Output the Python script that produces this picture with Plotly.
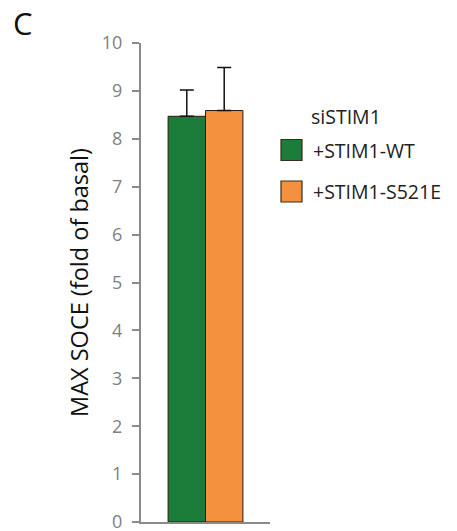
import plotly.graph_objects as go

categories = ["siSTIM1"]
series_names = ["+STIM1-WT", "+STIM1-S521E"]
values_wt = [8.47]
values_s521e = [8.59]
err_wt = [0.55]
err_s521e = [0.9]
colors = ["#1b7d39", "#f4913f"]
yticks = list(range(0, 11))
legend_title = "siSTIM1"

W, H = 457, 531
ML, MR, MT, MB = 141, 187, 43, 9
PW, PH = W - ML - MR, H - MT - MB


def px_x(x):
    return (x - ML) / PW


def px_y(y):
    return 1 - (y - MT) / PH


fig = go.Figure()
for name, vals, errs, col in [
    (series_names[0], values_wt, err_wt, colors[0]),
    (series_names[1], values_s521e, err_s521e, colors[1]),
]:
    fig.add_trace(go.Bar(
        x=categories, y=vals, name=name, showlegend=False,
        marker=dict(color=col, line=dict(color="#2a1a10", width=1)),
        error_y=dict(type="data", array=errs, symmetric=False, arrayminus=[0] * len(errs),
                     color="#111111", thickness=1.5, width=7),
    ))

# manual legend (large square swatches like the reference)
shapes = []
annotations = []
annotations.append(dict(text=legend_title, xref="paper", yref="paper",
                        x=px_x(309), y=px_y(116), xanchor="left", yanchor="middle",
                        showarrow=False, font=dict(size=19.5, color="#222")))
for i, (name, col) in enumerate(zip(series_names, colors)):
    yc = 150 + i * 41.5
    shapes.append(dict(type="rect", xref="paper", yref="paper",
                       x0=px_x(281), x1=px_x(302), y0=px_y(yc - 10.5), y1=px_y(yc + 10.5),
                       fillcolor=col, line=dict(color="#3a2a1a", width=1.2)))
    annotations.append(dict(text=name, xref="paper", yref="paper",
                            x=px_x(311), y=px_y(yc), xanchor="left", yanchor="middle",
                            showarrow=False, font=dict(size=19.5, color="#222")))

annotations.append(dict(text="C", xref="paper", yref="paper",
                        x=px_x(11), y=px_y(0),
                        xanchor="left", yanchor="top", showarrow=False,
                        font=dict(size=31, color="#111")))

fig.update_layout(
    width=W, height=H,
    margin=dict(l=ML, r=MR, t=MT, b=MB, autoexpand=False),
    plot_bgcolor="white", paper_bgcolor="white",
    barmode="group", bargap=0.42, bargroupgap=0,
    font=dict(family="Open Sans, Lato, sans-serif", color="#222"),
    showlegend=False,
    xaxis=dict(
        range=[-0.5, 0.5], showticklabels=False, ticks="",
        showline=True, linecolor="#8a8a8a", linewidth=2, showgrid=False,
        zeroline=False, automargin=False,
    ),
    yaxis=dict(
        range=[0, 10], tickvals=yticks, ticks="outside", ticklen=7,
        tickcolor="#8a8a8a", tickwidth=2, automargin=False,
        showline=True, linecolor="#8a8a8a", linewidth=2, showgrid=False,
        zeroline=False, ticklabeloverflow="allow", ticklabelstandoff=6,
        tickfont=dict(size=18, color="#808080"),
        title=dict(text="MAX SOCE (fold of basal)", font=dict(size=23.5, color="#111"), standoff=7),
    ),
    shapes=shapes,
    annotations=annotations,
)

fig.write_html("out.html")
